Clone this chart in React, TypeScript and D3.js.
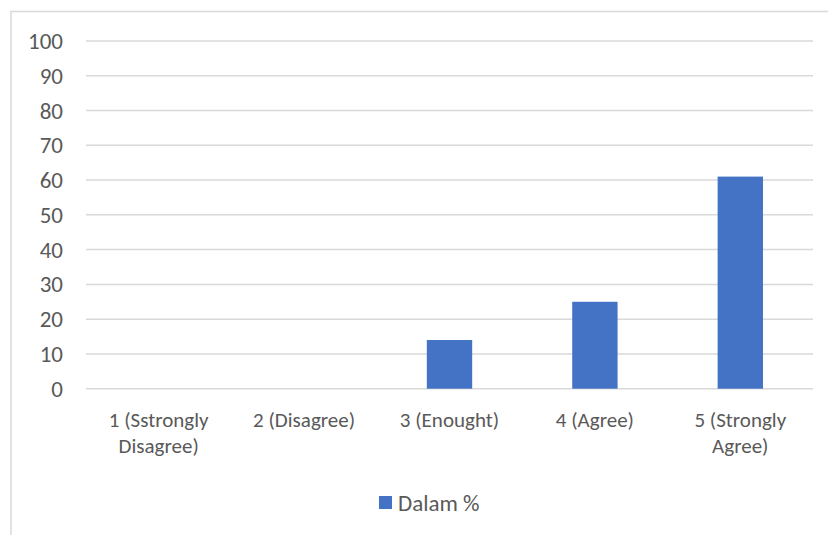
import React, { useEffect, useRef } from 'react';
import * as d3 from 'd3';

const categories = ['1 (Sstrongly Disagree)', '2 (Disagree)', '3 (Enought)', '4 (Agree)', '5 (Strongly Agree)'];
const categoryLines = [['1 (Sstrongly', 'Disagree)'], ['2 (Disagree)'], ['3 (Enought)'], ['4 (Agree)'], ['5 (Strongly', 'Agree)']];
const values = [0, 0, 14, 25, 61];
const yTicks = [0, 10, 20, 30, 40, 50, 60, 70, 80, 90, 100];
const seriesName = 'Dalam %';

const W = 828;
const H = 535;
const FONT = 'Carlito, Lato, "Liberation Sans", sans-serif';
const FS = 23;

function App() {
  const ref = useRef<SVGSVGElement>(null);

  useEffect(() => {
    const svg = d3.select(ref.current);
    svg.selectAll('*').remove();

    const margin = { left: 86, right: 15, top: 41, bottom: 146 };

    // chart frame
    svg.append('rect')
      .attr('x', 11).attr('y', 11.5)
      .attr('width', W).attr('height', H)
      .attr('fill', '#fff').attr('stroke', '#d9d9d9').attr('stroke-width', 1.5);

    const x = d3.scaleBand<string>()
      .domain(categories)
      .range([margin.left, W - margin.right])
      .paddingInner(0.688)
      .paddingOuter(0.344);
    const y = d3.scaleLinear().domain([0, 100]).range([H - margin.bottom - 0.3, margin.top]);

    // gridlines
    svg.append('g').selectAll('line').data(yTicks).join('line')
      .attr('x1', margin.left).attr('x2', W - margin.right)
      .attr('y1', d => y(d)).attr('y2', d => y(d))
      .attr('stroke', '#d9d9d9').attr('stroke-width', 1.5);

    // y labels
    svg.append('g').selectAll('text').data(yTicks).join('text')
      .attr('x', 63).attr('y', d => y(d))
      .attr('dy', '0.35em')
      .attr('text-anchor', 'end')
      .attr('font-family', FONT).attr('font-size', FS).attr('fill', '#595959')
      .text(d => d);

    // bars
    svg.append('g').selectAll('rect').data(values).join('rect')
      .attr('x', (d, i) => x(categories[i])!)
      .attr('y', d => y(d))
      .attr('width', x.bandwidth())
      .attr('height', d => y(0) - y(d))
      .attr('fill', '#4472c4');

    // x labels, one text per line
    categories.forEach((c, i) => {
      categoryLines[i].forEach((ln, j) => {
        svg.append('text')
          .attr('x', x(c)! + x.bandwidth() / 2)
          .attr('y', 427 + j * 25.5)
          .attr('text-anchor', 'middle')
          .attr('font-family', FONT).attr('font-size', 21).attr('fill', '#595959')
          .text(ln);
      });
    });

    // legend
    const lg = svg.append('g');
    lg.append('rect').attr('x', 379).attr('y', 496).attr('width', 13).attr('height', 13).attr('fill', '#4472c4');
    lg.append('text').attr('x', 398).attr('y', 502.5).attr('dy', '0.35em')
      .attr('font-family', FONT).attr('font-size', FS).attr('fill', '#595959')
      .text(seriesName);
  }, []);

  return (
    <svg ref={ref} width={W} height={H} style={{ position: 'absolute', left: 0, top: 0, background: '#fff' }} />
  );
}

export default App;
